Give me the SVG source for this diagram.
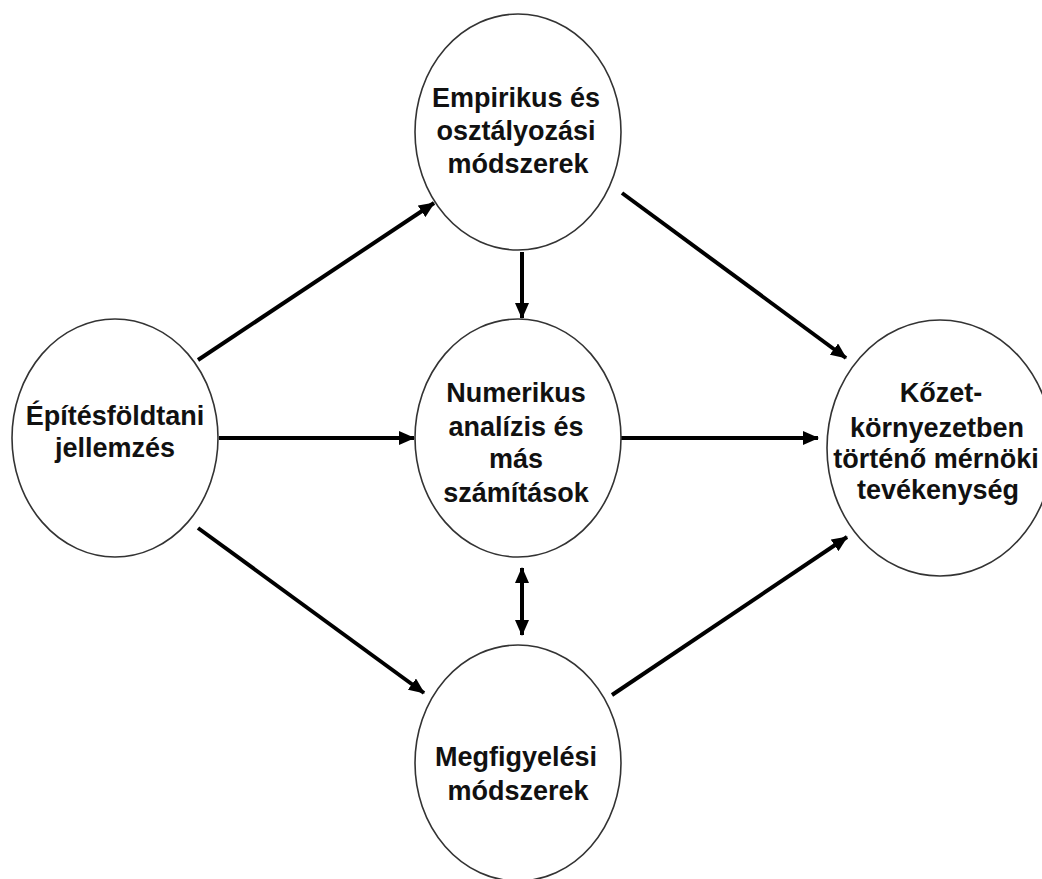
<svg xmlns="http://www.w3.org/2000/svg" width="1042" height="879" viewBox="0 0 1042 879">
<style>
.node ellipse{fill:#fff;stroke:#333;stroke-width:1.6}
.node text{font-family:"Liberation Sans",Arial,sans-serif;font-weight:bold;font-size:27px;fill:#111;text-anchor:middle}
.conn line{stroke:#000;stroke-width:4;marker-end:url(#ah)}
</style>
<defs>
<marker id="ah" markerUnits="userSpaceOnUse" markerWidth="16" markerHeight="14" refX="15" refY="7" orient="auto-start-reverse" viewBox="0 0 16 14">
<path d="M0,0 L16,7 L0,14 z" fill="#000"/>
</marker>
</defs>
<rect width="1042" height="879" fill="#fff"/>
<g id="connectors" class="conn">
<line x1="198" y1="360" x2="434" y2="203"/>
<line x1="622" y1="193" x2="846" y2="358"/>
<line x1="198" y1="528" x2="424" y2="693"/>
<line x1="612" y1="695" x2="847" y2="537"/>
<line x1="219" y1="438" x2="414" y2="438"/>
<line x1="621" y1="438" x2="818" y2="438"/>
<line x1="522" y1="252" x2="522" y2="318"/>
<line x1="522" y1="568" x2="522" y2="635" style="marker-start:url(#ah)"/>
</g>
<g id="empirikus" class="node">
<ellipse cx="518" cy="132" rx="103" ry="118"/>
<text x="516" y="107">Empirikus és</text>
<text x="516" y="140">osztályozási</text>
<text x="518" y="173">módszerek</text>
</g>
<g id="epitesfoldtani" class="node">
<ellipse cx="115" cy="438" rx="103" ry="119"/>
<text x="115" y="425">Építésföldtani</text>
<text x="115" y="457">jellemzés</text>
</g>
<g id="numerikus" class="node">
<ellipse cx="518" cy="438" rx="103" ry="119"/>
<text x="516" y="402">Numerikus</text>
<text x="516" y="436">analízis és</text>
<text x="516" y="468">más</text>
<text x="516" y="502">számítások</text>
</g>
<g id="kozet" class="node">
<ellipse cx="940" cy="448" rx="113" ry="128"/>
<text x="941" y="402">Kőzet-</text>
<text x="937" y="437">környezetben</text>
<text x="936" y="468">történő mérnöki</text>
<text x="938" y="499">tevékenység</text>
</g>
<g id="megfigyelesi" class="node">
<ellipse cx="518" cy="763" rx="103" ry="118"/>
<text x="516" y="766">Megfigyelési</text>
<text x="518" y="800">módszerek</text>
</g>
</svg>
